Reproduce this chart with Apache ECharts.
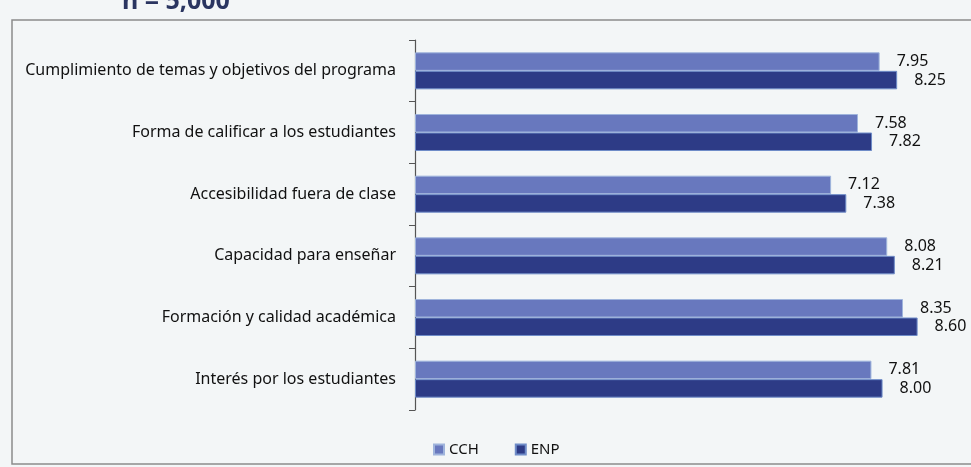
<!DOCTYPE html>
<html>
<head>
<meta charset="utf-8">
<script src="https://cdn.jsdelivr.net/npm/echarts@6/dist/echarts.min.js"></script>
<style>
  html, body { margin: 0; padding: 0; background: #f3f6f7; }
  #main { width: 971px; height: 467px; }
</style>
</head>
<body>
<div id="main"></div>
<script>
// datos de la gráfica
var categorias = [
    'Cumplimiento de temas y objetivos del programa',
    'Forma de calificar a los estudiantes',
    'Accesibilidad fuera de clase',
    'Capacidad para enseñar',
    'Formación y calidad académica',
    'Interés por los estudiantes'
];
var valoresCCH = [7.95, 7.58, 7.12, 8.08, 8.35, 7.81];
var valoresENP = [8.25, 7.82, 7.38, 8.21, 8.60, 8.00];

var myChart = echarts.init(document.getElementById('main'));

var etiqueta = {
    show: true,
    position: 'right',
    distance: 17,
    color: '#111',
    fontSize: 16,
    fontFamily: 'Noto Sans',
    formatter: function (p) { return p.value.toFixed(2); }
};

var option = {
    backgroundColor: '#f3f6f7',
    animation: false,
    title: {
        text: 'n = 5,000',
        left: 117,
        top: -16,
        textStyle: { color: '#2a3560', fontSize: 25, fontWeight: 'bold', fontFamily: 'Noto Sans' }
    },
    graphic: [{
        type: 'rect',
        shape: { x: 12, y: 20, width: 990, height: 444 },
        style: { fill: null, stroke: '#8c8c8c', lineWidth: 1.5 },
        z: -1
    }],
    legend: {
        bottom: 5,
        left: 428,
        itemWidth: 10,
        itemHeight: 10,
        itemGap: 36,
        icon: 'rect',
        textStyle: { color: '#111', fontSize: 15, fontFamily: 'Noto Sans' },
        data: ['CCH', 'ENP']
    },
    grid: { left: 415, right: 30, top: 40, bottom: 57 },
    xAxis: {
        type: 'value',
        min: 0,
        max: 9,
        show: false
    },
    yAxis: {
        type: 'category',
        inverse: true,
        data: categorias,
        axisLine: { lineStyle: { color: '#555', width: 1.2 } },
        axisTick: { show: true, length: 6, lineStyle: { color: '#555' } },
        axisLabel: {
            margin: 19,
            color: '#111',
            fontSize: 16,
            fontFamily: 'Noto Sans'
        }
    },
    series: [{
        name: 'CCH',
        type: 'bar',
        data: valoresCCH,
        barGap: '0%',
        barCategoryGap: '40%',
        itemStyle: { color: '#6878be', borderColor: '#9fb4dc', borderWidth: 1 },
        label: etiqueta
    }, {
        name: 'ENP',
        type: 'bar',
        data: valoresENP,
        itemStyle: { color: '#2d3b86', borderColor: '#6f8cc8', borderWidth: 1 },
        label: etiqueta
    }]
};

myChart.setOption(option);
</script>
</body>
</html>
